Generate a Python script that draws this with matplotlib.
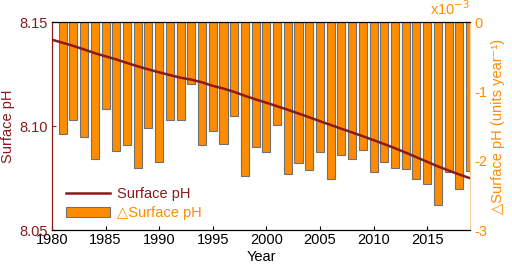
import numpy as np
import matplotlib
matplotlib.use('Agg')
import matplotlib.pyplot as plt

plt.rcParams['font.family'] = ['Liberation Sans', 'DejaVu Sans']
plt.rcParams['axes.unicode_minus'] = False

# Surface pH per year
years_ph = list(range(1980, 2020))
ph = [8.1415, 8.1400, 8.1385, 8.1368, 8.1350, 8.1335, 8.1320, 8.1303, 8.1287, 8.1272,
      8.1258, 8.1245, 8.1232, 8.1223, 8.1210, 8.1193, 8.1180, 8.1164, 8.1145, 8.1128,
      8.1112, 8.1095, 8.1078, 8.1060, 8.1042, 8.1023, 8.1005, 8.0987, 8.0969, 8.0951,
      8.0932, 8.0913, 8.0893, 8.0872, 8.0850, 8.0828, 8.0806, 8.0786, 8.0767, 8.0749]

# Delta surface pH (x10^-3 units/year)
years_d = list(range(1981, 2020))
dph = [-1.62, -1.41, -1.66, -1.98, -1.26, -1.86, -1.78, -2.10, -1.53, -2.02,
       -1.42, -1.41, -0.89, -1.78, -1.57, -1.76, -1.35, -2.22, -1.80, -1.87,
       -1.48, -2.19, -2.04, -2.14, -1.87, -2.26, -1.92, -1.97, -1.84, -2.17,
       -2.02, -2.11, -2.12, -2.27, -2.33, -2.64, -2.16, -2.41, -2.15]

red = '#8B1A1A'
orange = '#FF8C00'
fs = 10.5

fig = plt.figure(figsize=(5.12, 2.72), dpi=100)
ax = fig.add_axes([52/512, 1-230/272, 418/512, 208/272])
ax2 = ax.twinx()

bars = ax2.bar(years_d, dph, width=0.75, color=orange, edgecolor='#707070', linewidth=0.8)
ax2.set_ylim(-3, 0)
ax2.set_yticks([0, -1, -2, -3])
ax2.tick_params(axis='y', colors=orange, labelsize=fs, direction='in', length=3, pad=3)
ax2.set_ylabel('\u25b3Surface pH (units year\u207b\u00b9)', color=orange, fontsize=fs,
               labelpad=3)
ax2.spines['right'].set_color('#F5CFA0')
ax2.text(1.0, 1.02, 'x10$^{-3}$', transform=ax2.transAxes, color=orange,
         fontsize=fs, ha='right', va='bottom')

line, = ax.plot(years_ph, ph, color=red, linewidth=1.8)
ax.set_zorder(ax2.get_zorder() + 1)
ax.patch.set_visible(False)
ax.set_xlim(1980, 2019)
ax.set_ylim(8.05, 8.15)
ax.set_yticks([8.05, 8.10, 8.15])
ax.set_yticklabels(['8.05', '8.10', '8.15'])
ax.set_xticks(range(1980, 2020, 5))
ax.tick_params(axis='y', colors=red, labelsize=fs, direction='in', length=3, pad=3)
ax.tick_params(axis='x', labelsize=fs, direction='in', length=3, pad=2)
ax.set_ylabel('Surface pH', color=red, fontsize=fs, labelpad=3)
ax.set_xlabel('Year', fontsize=fs, labelpad=2)
ax.spines['left'].set_color(red)
ax.spines['right'].set_visible(False)

ax.legend([line, bars], ['Surface pH', '\u25b3Surface pH'], loc='lower left',
          bbox_to_anchor=(0.01, 0.0), frameon=False, fontsize=fs,
          handlelength=3.0, labelcolor=[red, orange], borderaxespad=0.3,
          labelspacing=0.3, handletextpad=0.5)

fig.savefig('out.png', dpi=100)
